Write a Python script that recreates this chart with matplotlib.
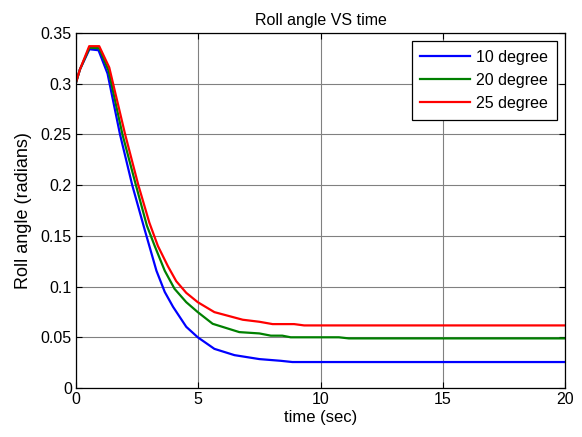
import matplotlib
matplotlib.use("Agg")
import matplotlib.pyplot as plt

plt.rcParams['font.family'] = ['Liberation Sans', 'DejaVu Sans']

t10 = [0, 0.16, 0.55, 0.92, 1.29, 1.8, 2.3, 2.81, 3.29, 3.63, 3.97, 4.51, 4.98, 5.66, 6.48, 7.5, 8.38, 8.85, 20]
y10 = [0.301, 0.314, 0.334, 0.333, 0.310, 0.25, 0.2, 0.156, 0.1156, 0.0947, 0.080, 0.0603, 0.050, 0.0386, 0.0324, 0.0285, 0.0268, 0.0256, 0.0256]

t20 = [0, 0.16, 0.55, 0.95, 1.33, 1.9, 2.45, 2.9, 3.22, 3.63, 4.03, 4.51, 4.98, 5.59, 6.68, 7.5, 7.97, 8.44, 8.78, 10.75, 11.16, 20]
y20 = [0.301, 0.314, 0.3355, 0.335, 0.313, 0.25, 0.2, 0.16, 0.140, 0.1156, 0.0978, 0.0846, 0.0748, 0.0633, 0.0551, 0.0538, 0.0516, 0.0516, 0.050, 0.050, 0.0489, 0.0489]

t25 = [0, 0.16, 0.54, 0.95, 1.36, 2.01, 2.55, 3.0, 3.35, 3.76, 4.1, 4.51, 4.98, 5.66, 6.82, 7.5, 8.04, 8.92, 9.33, 20]
y25 = [0.3015, 0.314, 0.337, 0.337, 0.316, 0.25, 0.2, 0.163, 0.140, 0.120, 0.1053, 0.0938, 0.0846, 0.0748, 0.0673, 0.0653, 0.0630, 0.0630, 0.0617, 0.0617]

labels = ['10 degree', '20 degree', '25 degree']
xticks = [0, 5, 10, 15, 20]
yticks = [0, 0.05, 0.1, 0.15, 0.2, 0.25, 0.3, 0.35]
yticklabels = ['0', '0.05', '0.1', '0.15', '0.2', '0.25', '0.3', '0.35']

fig = plt.figure(figsize=(5.82, 4.37), dpi=100)
ax = fig.add_axes([76/582, 49/437, 489/582, 355/437])

ax.plot(t10, y10, color='#0000ff', lw=1.6, label=labels[0])
ax.plot(t20, y20, color='#008000', lw=1.6, label=labels[1])
ax.plot(t25, y25, color='#ff0000', lw=1.6, label=labels[2])

ax.set_xlim(0, 20)
ax.set_ylim(0, 0.35)
ax.set_xticks(xticks)
ax.set_yticks(yticks)
ax.set_yticklabels(yticklabels)
ax.grid(True, color='#808080', lw=0.8, ls='-')
ax.tick_params(direction='in', labelsize=11.5, length=4, top=True, right=True, pad=3)
for s in ax.spines.values():
    s.set_linewidth(0.9)
ax.set_title('Roll angle VS time', fontsize=11.5, pad=6)
ax.set_xlabel('time (sec)', fontsize=12, labelpad=2)
ax.set_ylabel('Roll angle (radians)', fontsize=13, labelpad=6)
leg = ax.legend(loc='upper right', fontsize=11.5, fancybox=False, edgecolor='black',
                framealpha=1, borderaxespad=0.5, handlelength=3.1, handletextpad=0.4,
                labelspacing=0.5, borderpad=0.55)
leg.get_frame().set_linewidth(0.9)

fig.savefig('out.png', dpi=100)
